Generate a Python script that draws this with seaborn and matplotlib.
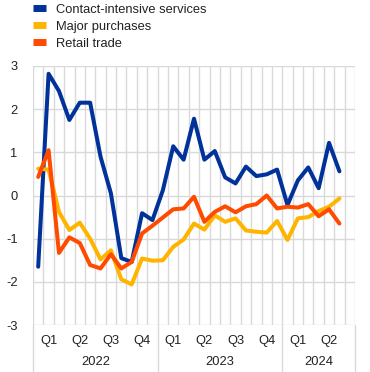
import numpy as np
import pandas as pd
import matplotlib
matplotlib.use("Agg")
import matplotlib.pyplot as plt
import seaborn as sns
from matplotlib.lines import Line2D

# ---- data (monthly, Jan 2022 - Jun 2024) ----
months = pd.period_range("2022-01", "2024-06", freq="M").astype(str).tolist()
contact_intensive = [-1.65, 2.82, 2.42, 1.75, 2.15, 2.15, 0.9, 0.05, -1.45, -1.54,
                     -0.41, -0.57, 0.12, 1.14, 0.83, 1.78, 0.83, 1.03, 0.42, 0.28,
                     0.67, 0.45, 0.49, 0.6, -0.22, 0.35, 0.65, 0.17, 1.22, 0.56]
major_purchases = [0.62, 0.6, -0.38, -0.8, -0.63, -1.0, -1.48, -1.27, -1.94, -2.06,
                   -1.46, -1.51, -1.5, -1.19, -1.02, -0.65, -0.79, -0.46, -0.61, -0.53,
                   -0.81, -0.84, -0.86, -0.59, -1.03, -0.53, -0.5, -0.36, -0.26, -0.07]
retail_trade = [0.43, 1.05, -1.33, -0.97, -1.1, -1.61, -1.69, -1.36, -1.69, -1.54,
                -0.88, -0.7, -0.51, -0.32, -0.3, -0.03, -0.61, -0.38, -0.25, -0.39,
                -0.25, -0.2, 0.0, -0.3, -0.26, -0.28, -0.2, -0.48, -0.32, -0.65]
series_names = ["Contact-intensive services", "Major purchases", "Retail trade"]
colors = ["#003299", "#FFB400", "#FF4B00"]
quarter_labels = ["Q1", "Q2", "Q3", "Q4", "Q1", "Q2", "Q3", "Q4", "Q1", "Q2"]
year_labels = ["2022", "2023", "2024"]
y_ticks = [-3, -2, -1, 0, 1, 2, 3]

n_slots = 31  # Jan 2022 .. Jul 2024 on the axis

rows = []
for name, vals in zip(series_names, [contact_intensive, major_purchases, retail_trade]):
    for i, (m, v) in enumerate(zip(months, vals)):
        rows.append({"pos": i + 0.5, "month": m, "series": name, "value": v})
df = pd.DataFrame(rows)

sns.set_theme(style="white")
plt.rcParams["font.family"] = ["Liberation Sans", "DejaVu Sans"]
text_color = "#222222"
grid_color = "#d9d9d9"
fs = 9.3

fig = plt.figure(figsize=(3.70, 3.72), dpi=100)
ax = fig.add_axes([33 / 370, 1 - 325 / 372, (355 - 33) / 370, (325 - 66) / 372])

# grid
for x in range(n_slots + 1):
    ax.axvline(x, color=grid_color, lw=1.0, zorder=0)
for y in y_ticks:
    ax.axhline(y, color=grid_color, lw=1.0, zorder=0)
# year separators extending below the axes
for x in [0, 12, 24, 31]:
    ax.axvline(x, ymin=-0.185, ymax=0, color=grid_color, lw=1.0, clip_on=False, zorder=0)

sns.lineplot(data=df, x="pos", y="value", hue="series", palette=colors,
             hue_order=series_names, linewidth=2.9, ax=ax, legend=False, zorder=3)

ax.set_xlim(0, n_slots)
ax.set_ylim(-3, 3)
ax.set_yticks(y_ticks)
ax.set_yticklabels([str(t) for t in y_ticks], fontsize=fs, color=text_color)
ax.tick_params(axis="y", length=0, pad=11)
ax.set_xticks([])
ax.set_xlabel("")
ax.set_ylabel("")
for s in ax.spines.values():
    s.set_visible(False)

trans = ax.get_xaxis_transform()
for k, q in enumerate(quarter_labels):
    ax.text(3 * k + 1.5, -0.06, q, transform=trans, ha="center", va="center",
            fontsize=fs, color=text_color)
year_centers = [6, 18, 27.5]
for yc, yl in zip(year_centers, year_labels):
    ax.text(yc, -0.143, yl, transform=trans, ha="center", va="center",
            fontsize=fs, color=text_color)

handles = [Line2D([0], [0], color=c, lw=5, solid_capstyle="butt") for c in colors]
fig.legend(handles, series_names, loc="upper left", bbox_to_anchor=(33 / 370, 0.99),
           frameon=False, fontsize=fs, handlelength=1.0, handletextpad=0.75,
           labelspacing=0.38, borderaxespad=0.0, borderpad=0.0, labelcolor=text_color)

fig.savefig("out.png", dpi=100)
